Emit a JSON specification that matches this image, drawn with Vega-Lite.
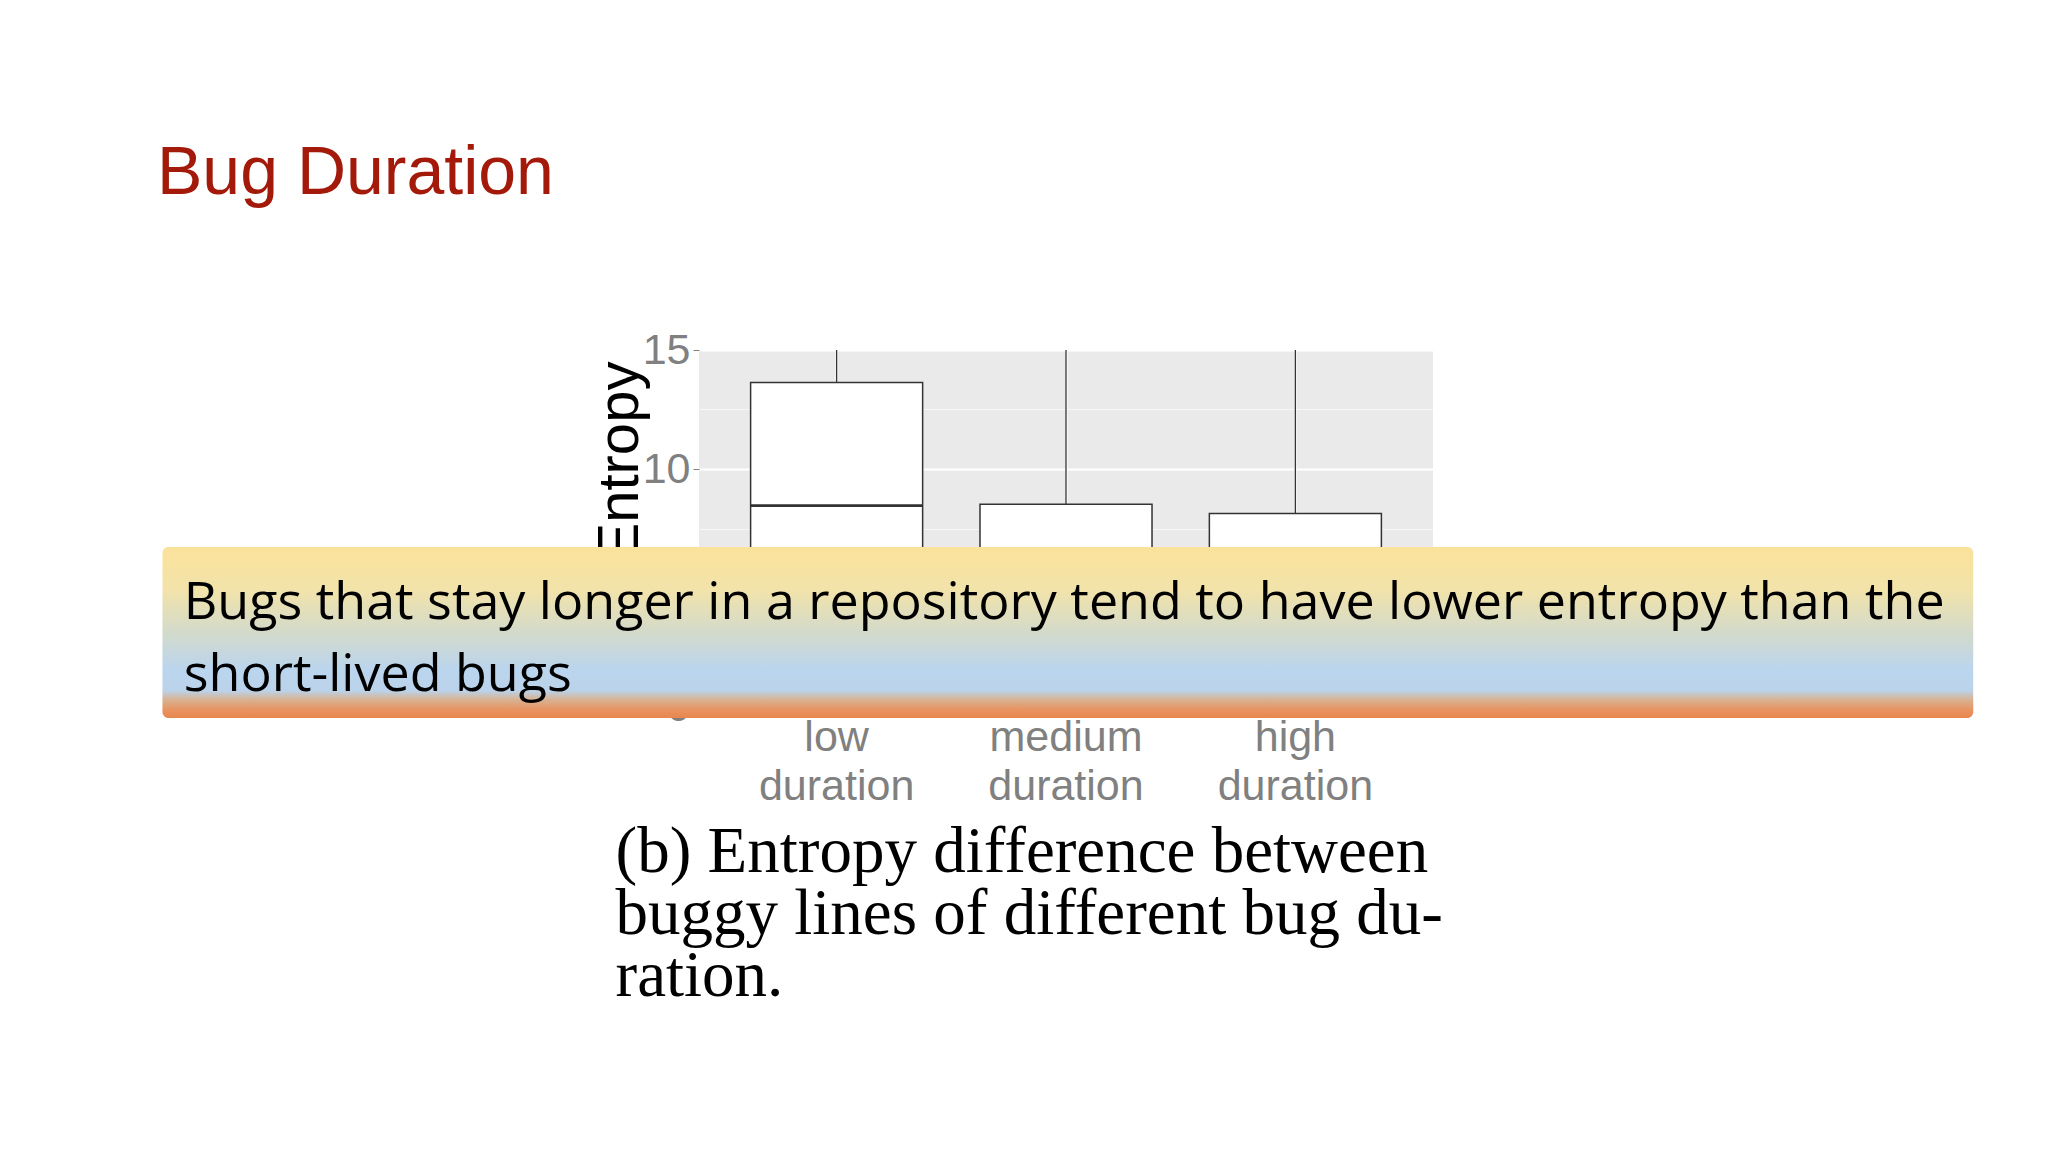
{
  "$schema": "https://vega.github.io/schema/vega-lite/v6.json",
  "width": 734,
  "height": 357,
  "autosize": {"type": "none"},
  "padding": {"left": 699, "top": 350, "right": 615, "bottom": 445},
  "background": "#FFFFFF",
  "title": {
    "text": "Bug Duration",
    "anchor": "start",
    "frame": "group",
    "dx": -542,
    "dy": -67,
    "offset": 0,
    "baseline": "alphabetic",
    "font": "Liberation Sans",
    "fontSize": 68,
    "fontWeight": "normal",
    "color": "#A31A0B"
  },
  "config": {"view": {"fill": "#EAEAEA", "stroke": null}},
  "layer": [
    {
      "data": {
        "values": [
          {"duration": "low duration", "lower": 0.3, "q1": 4.5, "median": 8.46, "q3": 13.63, "upper": 15},
          {"duration": "medium duration", "lower": 0.2, "q1": 1.8, "median": 4.4, "q3": 8.52, "upper": 15},
          {"duration": "high duration", "lower": 0.2, "q1": 1.5, "median": 4.0, "q3": 8.13, "upper": 15}
        ]
      },
      "encoding": {
        "x": {
          "field": "duration",
          "type": "nominal",
          "sort": ["low duration", "medium duration", "high duration"],
          "scale": {"paddingInner": 0.25, "paddingOuter": 0.225},
          "axis": {
            "labelExpr": "split(datum.label, ' ')",
            "labelFont": "Liberation Sans",
            "labelFontSize": 43,
            "labelColor": "#808080",
            "labelLineHeight": 49,
            "labelPadding": 3,
            "labelAngle": 0,
            "tickSize": 6,
            "tickColor": "#808080",
            "domain": false,
            "grid": true,
            "gridColor": "#FFFFFF",
            "gridWidth": 2.2,
            "bandPosition": 0.5,
            "title": ["(b) Entropy difference between", "buggy lines of different bug du-", "ration."],
            "titleFont": "Liberation Serif",
            "titleFontSize": 65,
            "titleFontWeight": "normal",
            "titleColor": "#000000",
            "titleLineHeight": 62,
            "titleAlign": "left",
            "titleBaseline": "alphabetic",
            "titleX": -84,
            "titleY": 164
          }
        }
      },
      "layer": [
        {
          "mark": {"type": "rule", "color": "#333333", "strokeWidth": 1.3},
          "encoding": {
            "y": {
              "field": "lower",
              "type": "quantitative",
              "scale": {"domain": [0, 15], "nice": false, "zero": false},
              "axis": {
                "values": [0, 2.5, 5, 7.5, 10, 12.5, 15],
                "labelExpr": "datum.value % 5 == 0 ? datum.label : ''",
                "labelFont": "Liberation Sans",
                "labelFontSize": 43,
                "labelColor": "#808080",
                "labelPadding": 3,
                "labelFlush": false,
                "labelOverlap": false,
                "tickColor": "#808080",
                "tickSize": 6,
                "tickOpacity": {"condition": {"test": "datum.value % 5 == 0", "value": 1}, "value": 0},
                "domain": false,
                "grid": true,
                "gridColor": "#FFFFFF",
                "gridWidth": {"condition": {"test": "datum.value % 5 == 0", "value": 2.2}, "value": 1.1},
                "gridOpacity": {"condition": {"test": "datum.value % 5 == 0", "value": 1}, "value": 0.6},
                "title": "Entropy",
                "titleFont": "Liberation Sans",
                "titleFontSize": 58,
                "titleFontWeight": "normal",
                "titleColor": "#000000",
                "titleAngle": 270,
                "titleAlign": "left",
                "titleBaseline": "alphabetic",
                "titleX": -62,
                "titleY": 211
              }
            },
            "y2": {"field": "upper"}
          }
        },
        {
          "mark": {"type": "bar", "fill": "#FFFFFF", "stroke": "#333333", "strokeWidth": 1.5},
          "encoding": {
            "y": {"field": "q1", "type": "quantitative"},
            "y2": {"field": "q3"}
          }
        },
        {
          "mark": {"type": "bar", "fill": "#FFFFFF", "fillOpacity": 0, "stroke": "#333333", "strokeWidth": 2.6},
          "encoding": {
            "y": {"field": "median", "type": "quantitative"},
            "y2": {"field": "median"}
          }
        }
      ]
    },
    {
      "data": {
        "values": [
          {"note": "Bugs that stay longer in a repository tend to have lower entropy than the\nshort-lived bugs"}
        ]
      },
      "layer": [
        {
          "mark": {
            "type": "rect",
            "cornerRadius": 6,
            "fill": {
              "gradient": "linear",
              "x1": 0, "y1": 0, "x2": 0, "y2": 1,
              "stops": [
                {"offset": 0, "color": "#FAE29B"},
                {"offset": 0.25, "color": "#F2E3AA"},
                {"offset": 0.5, "color": "#D3DACB"},
                {"offset": 0.72, "color": "#BAD5EE"},
                {"offset": 0.84, "color": "#BBD3EA"},
                {"offset": 0.89, "color": "#D6B496"},
                {"offset": 0.95, "color": "#E89462"},
                {"offset": 1, "color": "#E8864E"}
              ]
            }
          },
          "encoding": {
            "x": {"datum": -0.731, "type": "quantitative", "scale": {"domain": [0, 1], "nice": false, "zero": false}, "axis": null},
            "x2": {"datum": 1.736},
            "y": {"datum": 6.72, "type": "quantitative", "scale": {"domain": [0, 15], "nice": false, "zero": false}, "axis": null},
            "y2": {"datum": -0.46}
          }
        },
        {
          "mark": {
            "type": "text",
            "align": "left",
            "baseline": "alphabetic",
            "lineBreak": "\n",
            "lineHeight": 72,
            "font": "Open Sans",
            "fontSize": 52,
            "color": "#000000"
          },
          "encoding": {
            "x": {"datum": -0.702, "type": "quantitative", "scale": {"domain": [0, 1], "nice": false, "zero": false}, "axis": null},
            "y": {"datum": 3.7, "type": "quantitative", "scale": {"domain": [0, 15], "nice": false, "zero": false}, "axis": null},
            "text": {"field": "note"}
          }
        }
      ]
    }
  ],
  "resolve": {
    "scale": {"x": "independent", "y": "independent"},
    "axis": {"x": "independent", "y": "independent"}
  }
}
